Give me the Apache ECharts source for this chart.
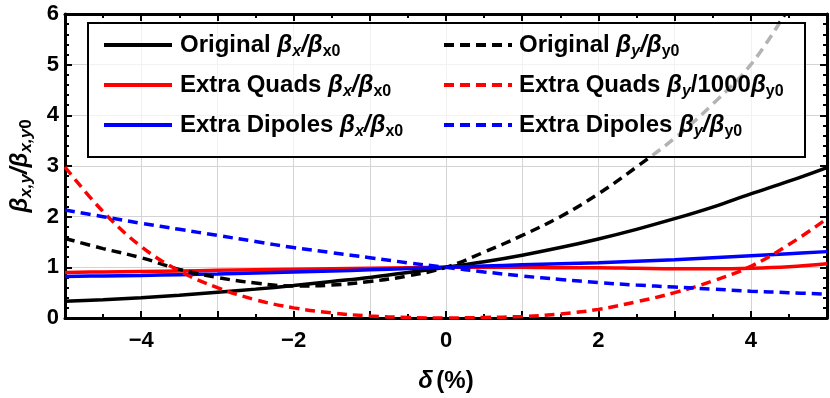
<!DOCTYPE html>
<html>
<head>
<meta charset="utf-8">
<script src="https://cdn.jsdelivr.net/npm/echarts@6/dist/echarts.min.js"></script>
<style>
html, body { margin: 0; padding: 0; background: #fff; }
#main { width: 830px; height: 398px; }
</style>
</head>
<body>
<div id="main"></div>
<script>
// delta (%) sample points
var delta = [-5, -4.5, -4, -3.5, -3, -2.5, -2, -1.5, -1, -0.5, 0, 0.5, 1, 1.5, 2, 2.5, 3, 3.5, 4, 4.5, 5];
var deltaOrigY = [-5, -4.5, -4, -3.5, -3, -2.5, -2, -1.5, -1, -0.5, 0, 0.5, 1, 1.5, 2, 2.5, 3, 3.5, 4, 4.45];

var origX    = [0.33, 0.36, 0.40, 0.45, 0.51, 0.57, 0.64, 0.72, 0.80, 0.90, 1.00, 1.11, 1.24, 1.39, 1.56, 1.75, 1.96, 2.19, 2.45, 2.70, 2.97];
var quadsX   = [0.90, 0.91, 0.92, 0.93, 0.94, 0.95, 0.96, 0.97, 0.98, 0.99, 1.00, 1.00, 1.00, 0.99, 0.99, 0.98, 0.97, 0.97, 0.98, 1.01, 1.07];
var dipolesX = [0.82, 0.83, 0.84, 0.855, 0.87, 0.89, 0.91, 0.93, 0.95, 0.975, 1.00, 1.025, 1.05, 1.07, 1.09, 1.12, 1.15, 1.19, 1.23, 1.27, 1.31];
var origY    = [1.57, 1.37, 1.19, 0.96, 0.80, 0.69, 0.63, 0.65, 0.72, 0.83, 1.00, 1.30, 1.63, 2.00, 2.45, 2.98, 3.55, 4.22, 5.00, 6.00];
var quadsY   = [2.98, 2.10, 1.41, 0.93, 0.60, 0.36, 0.20, 0.10, 0.04, 0.01, 0.00, 0.01, 0.03, 0.08, 0.17, 0.32, 0.50, 0.73, 1.02, 1.45, 1.96];
var dipolesY = [2.13, 2.00, 1.87, 1.75, 1.63, 1.51, 1.39, 1.29, 1.19, 1.09, 1.00, 0.91, 0.83, 0.76, 0.70, 0.65, 0.61, 0.57, 0.53, 0.50, 0.47];

var legendLeft  = ['Original βx/βx0', 'Extra Quads βx/βx0', 'Extra Dipoles βx/βx0'];
var legendRight = ['Original βy/βy0', 'Extra Quads βy/1000βy0', 'Extra Dipoles βy/βy0'];
var legendRich = {
  'Original βx/βx0':        '{t|Original }{g|β}{si|x}{g|/β}{sn|x0}',
  'Extra Quads βx/βx0':     '{t|Extra Quads }{g|β}{si|x}{g|/β}{sn|x0}',
  'Extra Dipoles βx/βx0':   '{t|Extra Dipoles }{g|β}{si|x}{g|/β}{sn|x0}',
  'Original βy/βy0':        '{t|Original }{g|β}{si|y}{g|/β}{sn|y0}',
  'Extra Quads βy/1000βy0': '{t|Extra Quads }{g|β}{si|y}{t|/1000}{g|β}{sn|y0}',
  'Extra Dipoles βy/βy0':   '{t|Extra Dipoles }{g|β}{si|y}{g|/β}{sn|y0}'
};

var FONT = 'Liberation Sans';

function pairs(xs, ys) {
  return xs.map(function (x, i) { return [x, ys[i]]; });
}

function richSet(size, sub, sp) {
  return {
    sp: { width: sp || 0 },
    t:  { fontFamily: FONT, fontSize: size, fontWeight: 'bold', color: '#000', lineHeight: 30 },
    g:  { fontFamily: FONT, fontSize: size, fontWeight: 'bold', fontStyle: 'italic', color: '#000', lineHeight: 30 },
    si: { fontFamily: FONT, fontSize: sub, fontWeight: 'bold', fontStyle: 'italic', color: '#000', lineHeight: sub, verticalAlign: 'bottom' },
    sn: { fontFamily: FONT, fontSize: sub, fontWeight: 'bold', color: '#000', lineHeight: sub, verticalAlign: 'bottom' }
  };
}

function line(name, xs, ys, color, dashed) {
  return {
    name: name,
    type: 'line',
    data: pairs(xs, ys),
    symbol: 'none',
    smooth: 0.4,
    lineStyle: { color: color, width: 3.5, type: dashed ? [10, 6] : 'solid' },
    itemStyle: { color: color }
  };
}

var tickStyle = { color: '#000', width: 2 };
var frame = { show: true, onZero: false, lineStyle: { color: '#000', width: 3 } };
var grid = { show: true, lineStyle: { color: '#d4d4d4', width: 1 } };

function legendAt(left, names, sp) {
  return {
    orient: 'vertical',
    left: left, top: 28,
    zlevel: 1, z: 4,
    itemWidth: 68, itemHeight: 14, itemGap: 13,
    data: names,
    itemStyle: { opacity: 0 },
    lineStyle: { width: 4 },
    formatter: function (n) { return '{sp|}' + legendRich[n]; },
    textStyle: { rich: richSet(24, 16, sp) }
  };
}

var option = {
  animation: false,
  backgroundColor: '#fff',
  textStyle: { fontFamily: FONT },
  grid: { left: 65, right: 3, top: 14, bottom: 78 },
  graphic: [{
    type: 'rect',
    zlevel: 1, z: 1,
    shape: { x: 88, y: 23, width: 717, height: 134 },
    style: { fill: 'rgba(255,255,255,0.7)', stroke: '#000', lineWidth: 2 }
  }],
  legend: [legendAt(97, legendLeft, 3), legendAt(437, legendRight, 2)],
  xAxis: [{
    type: 'value', min: -5, max: 5, interval: 1,
    axisLine: frame,
    axisTick: { inside: true, length: 7, lineStyle: tickStyle },
    minorTick: { show: true, splitNumber: 2, length: 4, lineStyle: tickStyle },
    splitLine: grid,
    axisLabel: {
      margin: 12, fontSize: 22, fontWeight: 'bold', color: '#000', fontFamily: FONT,
      formatter: function (v) {
        if (v % 2 !== 0) return '';
        return v < 0 ? '\u2212' + Math.abs(v) : String(v);
      }
    },
    name: '{g|δ} {t|(%)}',
    nameLocation: 'middle',
    nameGap: 48,
    nameTextStyle: { rich: richSet(24, 16) }
  }, {
    type: 'value', position: 'top', min: -5, max: 5, interval: 1,
    axisLine: frame,
    axisTick: { inside: true, length: 7, lineStyle: tickStyle },
    minorTick: { show: true, splitNumber: 2, length: 4, lineStyle: tickStyle },
    splitLine: { show: false },
    axisLabel: { show: false }
  }],
  yAxis: [{
    type: 'value', min: 0, max: 6, interval: 1,
    axisLine: frame,
    axisTick: { inside: true, length: 7, lineStyle: tickStyle },
    minorTick: { show: true, splitNumber: 5, length: 4, lineStyle: tickStyle },
    splitLine: grid,
    axisLabel: { margin: 6, fontSize: 22, fontWeight: 'bold', color: '#000', fontFamily: FONT },
    name: '{g|β}{si|x,y}{g|/β}{si|x,y}{sn|0}',
    nameLocation: 'middle',
    nameRotate: 90,
    nameGap: 30,
    nameTextStyle: { rich: richSet(24, 17) }
  }, {
    type: 'value', position: 'right', min: 0, max: 6, interval: 1,
    axisLine: frame,
    axisTick: { inside: true, length: 7, lineStyle: tickStyle },
    minorTick: { show: true, splitNumber: 5, length: 4, lineStyle: tickStyle },
    splitLine: { show: false },
    axisLabel: { show: false }
  }],
  series: [
    line('Original βx/βx0', delta, origX, '#000', false),
    line('Extra Quads βx/βx0', delta, quadsX, '#ff0000', false),
    line('Extra Dipoles βx/βx0', delta, dipolesX, '#0000ff', false),
    line('Original βy/βy0', deltaOrigY, origY, '#000', true),
    line('Extra Quads βy/1000βy0', delta, quadsY, '#ff0000', true),
    line('Extra Dipoles βy/βy0', delta, dipolesY, '#0000ff', true)
  ]
};

var myChart = echarts.init(document.getElementById('main'));
myChart.setOption(option);
</script>
</body>
</html>
